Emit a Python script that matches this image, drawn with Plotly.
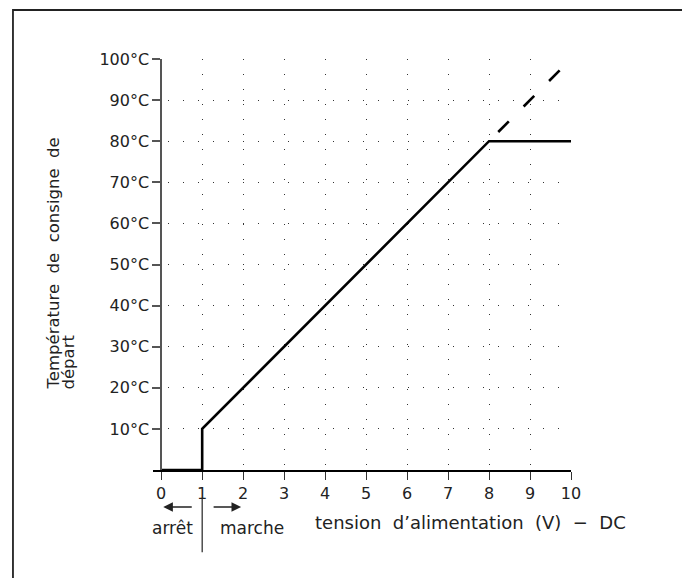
import plotly.graph_objects as go

# data
volt = [0, 1, 1, 8, 10]
temp = [0, 0, 10, 80, 80]
ext_volt = [8, 10]
ext_temp = [80, 100]
x_ticks = list(range(0, 11))
y_ticks = list(range(10, 101, 10))
y_labels = [f"{v}°C" for v in y_ticks]

FONT = "DejaVu Sans"
TXT = "#222"
fig = go.Figure()
fig.add_trace(go.Scatter(x=ext_volt, y=ext_temp, mode="lines",
                         line=dict(color="black", width=2.6, dash="0px,13px,15px,21px,15px,21px,15px,200px"),
                         hoverinfo="skip", cliponaxis=False))
fig.add_trace(go.Scatter(x=volt, y=temp, mode="lines",
                         line=dict(color="black", width=2.6),
                         hoverinfo="skip", cliponaxis=False))

grid = dict(showgrid=True, gridcolor="#333", gridwidth=1, griddash="1px,14px")
fig.update_layout(
    width=682, height=570, showlegend=False,
    paper_bgcolor="white", plot_bgcolor="white",
    margin=dict(l=145, r=119, t=51, b=108),
    font=dict(family=FONT, size=16, color=TXT),
    xaxis=dict(range=[-0.2, 10], tickvals=x_ticks, ticktext=[str(v) for v in x_ticks],
               showline=True, linecolor="black", linewidth=1.5,
               ticks="outside", ticklen=8, tickwidth=1.2, tickcolor="#333",
               zeroline=False, tickfont=dict(size=16, family=FONT, color=TXT), **grid),
    yaxis=dict(range=[0, 100], tickvals=y_ticks, ticktext=y_labels,
               anchor="free", position=0.2 / 10.2,
               showline=True, linecolor="#555", linewidth=1.8,
               ticks="outside", ticklen=8, tickwidth=1.5, tickcolor="#555",
               zeroline=False, tickfont=dict(size=16, family=FONT, color=TXT), **grid),
)

# frame (open at bottom)
fig.add_shape(type="path", xref="paper", yref="paper",
              path="M -0.335 -0.35 L -0.335 1.1192 L 1.2703 1.1192 L 1.2703 -0.35",
              line=dict(color="#222", width=1.8))

# y title (two lines)
fig.add_annotation(text="Température  de  consigne  de", xref="paper", yref="paper",
                   x=-0.238, y=0.19, textangle=-90, showarrow=False,
                   xanchor="center", yanchor="bottom", font=dict(size=16.5))
fig.add_annotation(text="départ", xref="paper", yref="paper",
                   x=-0.203, y=0.19, textangle=-90, showarrow=False,
                   xanchor="center", yanchor="bottom", font=dict(size=16.5))

# bottom labels
fig.add_annotation(text="arrêt", xref="x", yref="paper", x=0.27, y=-0.170,
                   showarrow=False, font=dict(size=17))
fig.add_annotation(text="marche", xref="x", yref="paper", x=2.22, y=-0.170,
                   showarrow=False, font=dict(size=17))
fig.add_annotation(text="tension  d’alimentation  (V)  −  DC", xref="x", yref="paper",
                   x=7.54, y=-0.158, showarrow=False, font=dict(size=18))
fig.add_shape(type="line", xref="x", yref="paper", x0=1, x1=1, y0=-0.068, y1=-0.2,
              line=dict(color="#222", width=1.2))
fig.add_annotation(text="", xref="x", yref="paper", x=0.05, y=-0.09, ax=30, ay=0,
                   showarrow=True, arrowhead=2, arrowsize=1.2, arrowwidth=1.6, arrowcolor="#222")
fig.add_annotation(text="", xref="x", yref="paper", x=1.95, y=-0.09, ax=-29, ay=0,
                   showarrow=True, arrowhead=2, arrowsize=1.2, arrowwidth=1.6, arrowcolor="#222")

fig.write_html("out.html")
